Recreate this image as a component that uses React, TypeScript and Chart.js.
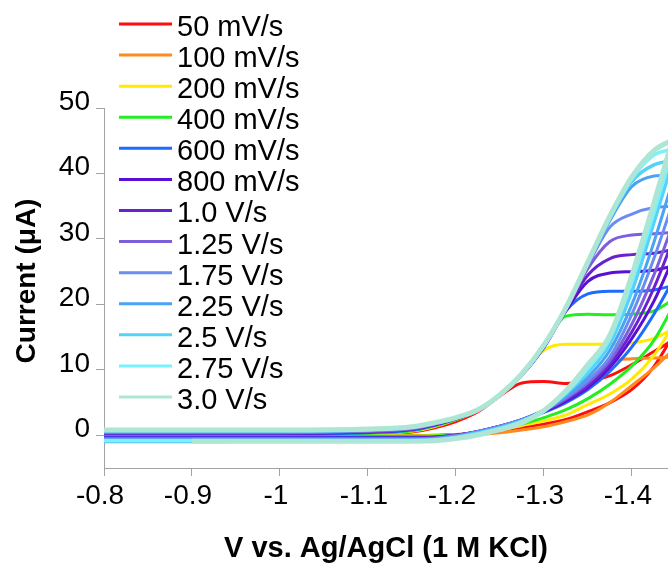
import React, { useEffect, useRef } from "react";
import { Chart, registerables } from "chart.js";

Chart.register(...registerables);

const FONT = '"Liberation Sans", Arial, sans-serif';
const AXIS_COLOR = "#a3a3a3";

// Potential grid (V vs. Ag/AgCl)
const VOLTS = [-0.8, -0.9, -1.0, -1.1, -1.15, -1.175, -1.2, -1.225, -1.25, -1.275, -1.3, -1.325, -1.35, -1.375, -1.4, -1.425, -1.45];

const RATE_LABELS = ["50 mV/s", "100 mV/s", "200 mV/s", "400 mV/s", "600 mV/s", "800 mV/s", "1.0 V/s", "1.25 V/s", "1.75 V/s", "2.25 V/s", "2.5 V/s", "2.75 V/s", "3.0 V/s"];
const RATE_COLORS = ["#ff0d0d", "#ff8a1f", "#ffea00", "#22ee22", "#1e6cff", "#5a0fd6", "#6a22d0", "#7d5fdc", "#6a8df2", "#4aa2f5", "#55d2f7", "#78f2fd", "#aee6d6"];
const LINE_WIDTHS = [3, 3, 3, 3, 3, 3, 3, 3, 3, 3, 3.5, 3.5, 5];

// Return sweep (upper branch with plateau), current in µA
const RET_50 = [0.05, 0.05, 0.05, 0.15, 0.5, 1.1, 2.1, 3.6, 6.0, 8.0, 8.2, 7.9, 8.2, 9.1, 10.8, 12.8, 14.8];
const RET_100 = [0.0, 0.0, 0.0, 0.0, -0.1, -0.2, -0.05, 0.55, 1.35, 2.4, 3.8, 5.7, 8.2, 11.2, 11.7, 11.8, 12.0];
const RET_200 = [0.05, 0.05, 0.05, 0.2, 0.6, 1.3, 2.4, 3.8, 6.1, 9.3, 13.0, 13.9, 13.9, 13.9, 14.1, 14.8, 16.5];
const RET_400 = [0.1, 0.1, 0.1, 0.3, 0.7, 1.4, 2.4, 3.8, 6.1, 9.3, 13.6, 18.2, 18.5, 18.4, 18.5, 19.0, 21.0];
const RET_600 = [0.2, 0.2, 0.2, 0.4, 0.8, 1.5, 2.5, 3.8, 6.1, 9.2, 13.4, 19.0, 21.6, 22.0, 22.0, 22.2, 23.0];
const RET_800 = [0.3, 0.3, 0.3, 0.5, 0.9, 1.6, 2.5, 3.8, 6.1, 9.2, 13.5, 19.0, 23.5, 24.8, 25.0, 25.2, 26.0];
const RET_1000 = [0.35, 0.35, 0.35, 0.55, 0.95, 1.6, 2.6, 3.8, 6.1, 9.3, 13.6, 19.2, 24.5, 27.0, 27.6, 27.8, 28.5];
const RET_1250 = [0.4, 0.4, 0.4, 0.6, 1.0, 1.7, 2.6, 3.8, 6.1, 9.3, 13.6, 19.3, 25.5, 29.6, 30.6, 30.8, 31.0];
const RET_1750 = [0.5, 0.5, 0.5, 0.7, 1.1, 1.7, 2.6, 3.9, 6.2, 9.3, 13.7, 19.4, 26.0, 31.8, 33.8, 34.8, 35.0];
const RET_2250 = [0.6, 0.6, 0.6, 0.8, 1.2, 1.8, 2.7, 3.9, 6.2, 9.4, 13.7, 19.5, 26.3, 32.8, 38.0, 39.6, 39.8];
const RET_2500 = [0.7, 0.7, 0.7, 0.85, 1.25, 1.85, 2.7, 3.9, 6.2, 9.4, 13.8, 19.5, 26.4, 33.2, 38.8, 41.3, 42.0];
const RET_2750 = [0.75, 0.75, 0.75, 0.9, 1.3, 1.9, 2.7, 3.9, 6.2, 9.4, 13.8, 19.5, 26.5, 33.4, 39.2, 42.8, 43.8];
const RET_3000 = [0.8, 0.8, 0.8, 0.95, 1.3, 1.9, 2.7, 3.9, 6.2, 9.4, 13.8, 19.5, 26.5, 33.5, 39.5, 43.5, 45.3];

// Forward sweep (lower branch, later onset), current in µA
const FWD_50 = [-0.05, -0.05, -0.05, -0.05, -0.05, 0.0, 0.1, 0.35, 0.75, 1.2, 1.7, 2.4, 3.6, 5.0, 7.0, 10.5, 16.0];
const FWD_100 = [-0.05, -0.05, -0.05, -0.1, -0.15, -0.15, -0.1, 0.1, 0.4, 0.8, 1.3, 2.1, 3.1, 5.0, 7.6, 10.3, 13.5];
const FWD_200 = [-0.1, -0.1, -0.1, -0.1, -0.1, -0.05, 0.05, 0.35, 0.8, 1.5, 2.2, 3.1, 4.7, 6.3, 8.6, 12.2, 17.5];
const FWD_400 = [-0.15, -0.15, -0.15, -0.15, -0.15, -0.1, 0.05, 0.4, 1.0, 1.7, 2.7, 3.9, 5.6, 7.8, 10.6, 14.5, 20.5];
const FWD_600 = [-0.3, -0.3, -0.3, -0.3, -0.3, -0.25, 0.0, 0.5, 1.3, 2.3, 3.5, 5.0, 7.0, 9.8, 13.5, 18.5, 24.5];
const FWD_800 = [-0.4, -0.4, -0.4, -0.4, -0.4, -0.3, 0.0, 0.6, 1.4, 2.4, 3.6, 5.2, 7.3, 10.4, 14.8, 20.5, 28.0];
const FWD_1000 = [-0.45, -0.45, -0.45, -0.45, -0.45, -0.35, 0.0, 0.6, 1.4, 2.4, 3.7, 5.4, 7.6, 10.9, 15.8, 22.5, 31.0];
const FWD_1250 = [-0.5, -0.5, -0.5, -0.5, -0.5, -0.4, -0.05, 0.6, 1.4, 2.4, 3.8, 5.6, 8.0, 11.4, 17.0, 24.5, 33.5];
const FWD_1750 = [-0.6, -0.6, -0.6, -0.6, -0.6, -0.5, -0.1, 0.55, 1.35, 2.4, 3.8, 5.8, 8.4, 12.0, 18.5, 27.0, 37.0];
const FWD_2250 = [-1.0, -1.0, -0.8, -0.75, -0.75, -0.6, -0.2, 0.45, 1.25, 2.3, 3.8, 6.0, 8.9, 13.0, 20.0, 29.5, 40.5];
const FWD_2500 = [-0.8, -0.8, -0.8, -0.8, -0.8, -0.7, -0.3, 0.35, 1.15, 2.2, 3.8, 6.3, 9.6, 14.0, 22.0, 32.5, 43.5];
const FWD_2750 = [-0.85, -0.85, -0.85, -0.85, -0.85, -0.75, -0.4, 0.2, 1.0, 2.1, 3.8, 6.5, 10.2, 14.8, 23.5, 34.0, 45.5];
const FWD_3000 = [null, -0.9, -0.9, -0.9, -0.9, -0.85, -0.5, 0.05, 0.85, 1.9, 3.8, 6.8, 10.8, 15.3, 24.5, 35.5, 47.0];

const RETURN_SWEEPS = [RET_50, RET_100, RET_200, RET_400, RET_600, RET_800, RET_1000, RET_1250, RET_1750, RET_2250, RET_2500, RET_2750, RET_3000];
const FORWARD_SWEEPS = [FWD_50, FWD_100, FWD_200, FWD_400, FWD_600, FWD_800, FWD_1000, FWD_1250, FWD_1750, FWD_2250, FWD_2500, FWD_2750, FWD_3000];

const X_TITLE = "V vs. Ag/AgCl (1 M KCl)";
const Y_TITLE = "Current (μA)";

const fmt = (v: number | string) => String(Math.round(Number(v) * 100) / 100);

export default function App() {
  const ref = useRef<HTMLCanvasElement>(null);

  useEffect(() => {
    document.body.style.margin = "0";
    const canvas = ref.current;
    if (!canvas) return;

    const n = RATE_LABELS.length;
    const datasets: any[] = [];
    RATE_LABELS.forEach((label, i) => {
      const common = {
        borderColor: RATE_COLORS[i],
        backgroundColor: RATE_COLORS[i],
        borderWidth: LINE_WIDTHS[i],
        pointRadius: 0,
        pointHoverRadius: 0,
        cubicInterpolationMode: "monotone",
        fill: false,
        // later scan rates are painted on top of earlier ones
        order: n - i,
      };
      datasets.push({
        ...common,
        label,
        data: VOLTS.map((v, k) => ({ x: v, y: RETURN_SWEEPS[i][k] })),
      });
      datasets.push({
        ...common,
        label: label + " forward",
        data: VOLTS.map((v, k) => ({ x: v, y: FORWARD_SWEEPS[i][k] })),
      });
    });

    const overlay = {
      id: "insetLegendAndTitle",
      afterDraw(chart: any) {
        const ctx = chart.ctx as CanvasRenderingContext2D;
        ctx.save();
        // Legend
        ctx.font = `29px ${FONT}`;
        ctx.textAlign = "left";
        ctx.textBaseline = "alphabetic";
        RATE_LABELS.forEach((label, i) => {
          const y = 24 + i * 31.08;
          ctx.strokeStyle = RATE_COLORS[i];
          ctx.lineWidth = 3;
          ctx.lineCap = "butt";
          ctx.beginPath();
          ctx.moveTo(119, y);
          ctx.lineTo(172, y);
          ctx.stroke();
          ctx.fillStyle = "#000";
          ctx.fillText(label, 177, y + 12);
        });
        // Y axis title
        ctx.translate(27, 281);
        ctx.rotate(-Math.PI / 2);
        ctx.font = `bold 28px ${FONT}`;
        ctx.textAlign = "center";
        ctx.textBaseline = "middle";
        ctx.fillStyle = "#000";
        ctx.fillText(Y_TITLE, 0, 0);
        ctx.restore();
      },
    };

    const chart = new Chart(canvas, {
      type: "line",
      data: { datasets },
      options: {
        responsive: false,
        animation: false,
        devicePixelRatio: 1,
        layout: { padding: { top: 108, left: 0, right: 0, bottom: 0 } },
        plugins: {
          legend: { display: false },
          tooltip: { enabled: false },
        },
        events: [],
        scales: {
          x: {
            type: "linear",
            reverse: true,
            min: -1.441,
            max: -0.8,
            afterFit: (s: any) => {
              s.height = 96;
            },
            border: { display: true, color: AXIS_COLOR, width: 1 },
            grid: { drawOnChartArea: false, drawTicks: true, tickLength: 8, color: AXIS_COLOR },
            ticks: {
              stepSize: 0.1,
              includeBounds: false,
              autoSkip: false,
              maxRotation: 0,
              padding: 3,
              labelOffset: -4,
              color: "#000",
              font: { size: 28, family: FONT },
              callback: (v: any) => fmt(v),
            },
            title: {
              display: true,
              text: X_TITLE,
              color: "#000",
              font: { size: 29, weight: "bold", family: FONT, lineHeight: 1 },
              padding: { top: 0, bottom: 1 },
            },
          },
          y: {
            type: "linear",
            min: -5,
            max: 50,
            afterFit: (s: any) => {
              s.width = 104;
            },
            border: { display: true, color: AXIS_COLOR, width: 1 },
            grid: { drawOnChartArea: false, drawTicks: true, tickLength: 8, color: AXIS_COLOR },
            ticks: {
              stepSize: 10,
              includeBounds: false,
              padding: 6,
              labelOffset: -6,
              color: "#000",
              font: { size: 28, family: FONT },
              callback: (v: any) => fmt(v),
            },
          },
        },
      } as any,
      plugins: [overlay],
    });

    return () => chart.destroy();
  }, []);

  return (
    <div style={{ width: 668, height: 564, background: "#fff" }}>
      <canvas ref={ref} width={668} height={564} style={{ display: "block" }} />
    </div>
  );
}
